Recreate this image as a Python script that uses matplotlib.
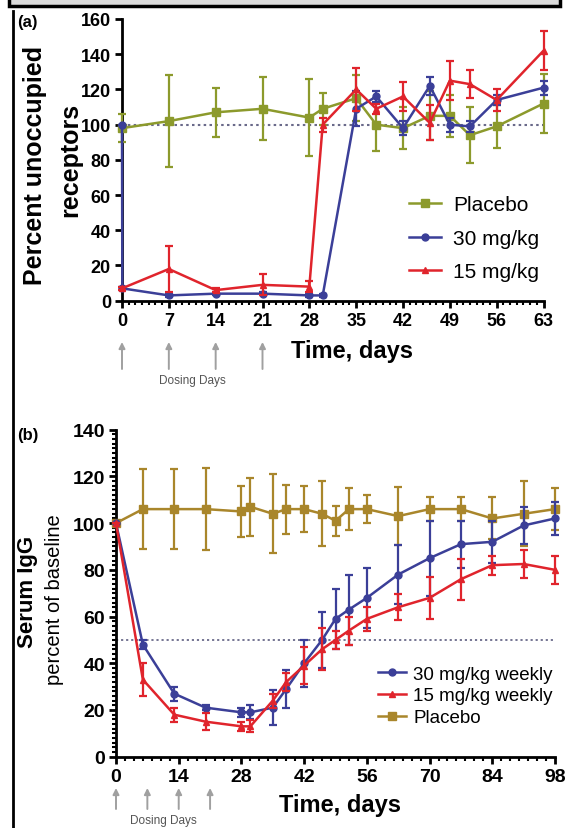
import numpy as np
import matplotlib
matplotlib.use("Agg")
from matplotlib import pyplot as plt
from matplotlib.patches import Rectangle, FancyArrowPatch
from matplotlib.lines import Line2D
from matplotlib.ticker import MultipleLocator

plt.rcParams['font.family'] = ['Liberation Sans', 'DejaVu Sans']

# ---- panel (a): receptor occupancy ----
a_pla_day = [0, 7, 14, 21, 28, 30, 35, 38, 42, 46, 49, 52, 56, 63]
a_pla_val = [98, 102, 107, 109, 104, 109, 115, 100, 98, 105, 105, 94, 99, 112]
a_pla_err = [8, 26, 14, 18, 22, 9, 13, 15, 12, 14, 12, 16, 12, 17]

a_30_day = [0, 0.05, 7, 14, 21, 28, 30, 35, 38, 42, 46, 49, 52, 56, 63]
a_30_val = [100, 7, 3, 4, 4, 3, 3, 109, 116, 98, 122, 100, 99, 114, 121]
a_30_err = [0, 1, 1, 1, 1, 1, 1, 10, 3, 4, 5, 4, 3, 3, 4]

a_15_day = [0, 7, 14, 21, 28, 30, 35, 38, 42, 46, 49, 52, 56, 63]
a_15_val = [7, 18, 6, 9, 8, 100, 120, 109, 116, 101, 125, 123, 114, 142]
a_15_err = [1, 13, 1, 6, 3, 4, 12, 3, 8, 10, 11, 8, 6, 11]

# ---- panel (b): serum IgG ----
b_day = [0, 6, 13, 20, 28, 30, 35, 38, 42, 46, 49, 52, 56, 63, 70, 77, 84, 91, 98]
b_30_val = [100, 48, 27, 21, 19, 19, 21, 29, 40, 50, 59, 63, 68, 78, 85, 91, 92, 99, 102]
b_30_err = [0, 2, 3, 1, 2, 3, 7.5, 8, 10, 12, 13, 15, 13, 12.5, 16, 10, 9, 8, 7]
b_15_val = [100, 33, 18, 15, 13, 13, 24, 32, 39, 46, 50, 54, 59, 64, 68, 76, 82, 82.5, 80]
b_15_err = [0, 7, 3, 3.5, 2, 2.5, 3, 4, 8, 9, 4, 6, 5, 5.5, 9, 8.7, 4, 6, 6]
b_pla_val = [100, 106, 106, 106, 105, 107, 104, 106, 106, 104, 101, 106, 106, 103, 106, 106, 102, 104, 106]
b_pla_err = [0, 17, 17, 17.5, 11, 12.5, 17, 10.5, 10, 14, 6.5, 9, 6, 12.5, 5, 5, 9, 14, 9]

dosing_days = [0, 7, 14, 21]

OLIVE = '#8c9a2c'
BLUE = '#3b3f98'
RED = '#e0242c'
GOLD = '#a9862b'

W, H = 566, 829
fig = plt.figure(figsize=(W / 100, H / 100), dpi=100)


def fx(px):
    return px / W


def fy(py):
    return 1 - py / H


def ptext(px, py, s, **kw):
    # place text by pixel position measured from the top-left corner
    return fig.text(fx(px), fy(py), s, **kw)


# header box and frame line
fig.patches.append(Rectangle((fx(9), fy(7)), fx(551), 7 / H + 0.01, transform=fig.transFigure,
                             facecolor='#dcdcdc', edgecolor='black', linewidth=2.5, clip_on=False))
fig.lines.append(Line2D([fx(12.5), fx(12.5)], [0, fy(12)], transform=fig.transFigure,
                        color='black', linewidth=2.0))


def style_axis(ax, lsize):
    for s in ['top', 'right']:
        ax.spines[s].set_visible(False)
    for s in ['left', 'bottom']:
        ax.spines[s].set_linewidth(2.0)
    ax.tick_params(which='major', length=5, width=2, labelsize=lsize, pad=3)
    ax.tick_params(which='minor', length=3, width=1.5)
    for lab in ax.get_xticklabels() + ax.get_yticklabels():
        lab.set_fontweight('bold')


def series(ax, x, y, e, color, marker, ms, z):
    ax.errorbar(x, y, yerr=e, color=color, marker=marker, markersize=ms, linewidth=1.8,
                elinewidth=1.6, capsize=3, capthick=1.6, clip_on=False, zorder=z)
    return Line2D([], [], color=color, marker=marker, markersize=ms, linewidth=1.8)


# ---------------- panel (a) ----------------
ax1 = fig.add_axes([fx(122), fy(301.7), 421.5 / W, 281.7 / H])
ax1.axhline(100, color='#6a6a8a', linestyle=(0, (1.2, 1.6)), linewidth=1.5, zorder=1)
h_pla = series(ax1, a_pla_day, a_pla_val, a_pla_err, OLIVE, 's', 6, 3)
h_30 = series(ax1, a_30_day, a_30_val, a_30_err, BLUE, 'o', 5, 4)
h_15 = series(ax1, a_15_day, a_15_val, a_15_err, RED, '^', 5, 5)
ax1.set_xlim(0, 63)
ax1.set_ylim(0, 160)
ax1.set_xticks(range(0, 64, 7))
ax1.set_yticks(range(0, 161, 20))
ax1.xaxis.set_minor_locator(MultipleLocator(1))
style_axis(ax1, 13)
ax1.legend([h_pla, h_30, h_15], ['Placebo', '30 mg/kg', '15 mg/kg'], loc='upper left',
           bbox_to_anchor=((401 - 122) / 421.5, 1 - (188 - 20) / 281.7), frameon=False,
           fontsize=15, handlelength=1.5, handletextpad=0.6, labelspacing=0.7, borderaxespad=0)

ptext(17, 23, '(a)', fontsize=12, fontweight='bold', va='center')
ptext(35, 165, 'Percent unoccupied', rotation=90, fontsize=18, fontweight='bold', ha='center', va='center')
ptext(70, 160, 'receptors', rotation=90, fontsize=18, fontweight='bold', ha='center', va='center')
ptext(352, 352, 'Time, days', fontsize=17, fontweight='bold', ha='center', va='center')

# ---------------- panel (b) ----------------
ax2 = fig.add_axes([fx(116), fy(757.7), 439 / W, 327 / H])
ax2.axhline(50, color='#6a6a8a', linestyle=(0, (1.2, 1.6)), linewidth=1.3, zorder=1)
h_bp = series(ax2, b_day, b_pla_val, b_pla_err, GOLD, 's', 6, 3)
h_b30 = series(ax2, b_day, b_30_val, b_30_err, BLUE, 'o', 5, 4)
h_b15 = series(ax2, b_day, b_15_val, b_15_err, RED, '^', 5, 5)
ax2.set_xlim(0, 98)
ax2.set_ylim(0, 140)
ax2.set_xticks(range(0, 99, 14))
ax2.set_yticks(range(0, 141, 20))
ax2.xaxis.set_minor_locator(MultipleLocator(2))
ax2.yaxis.set_minor_locator(MultipleLocator(2))
style_axis(ax2, 14)
ax2.legend([h_b30, h_b15, h_bp], ['30 mg/kg weekly', '15 mg/kg weekly', 'Placebo'], loc='upper left',
           bbox_to_anchor=((370 - 116) / 439, 1 - (659 - 430.7) / 327), frameon=False,
           fontsize=13.5, handlelength=1.5, handletextpad=0.4, labelspacing=0.25, borderaxespad=0)

ptext(17, 436, '(b)', fontsize=12, fontweight='bold', va='center')
ptext(28, 592, 'Serum IgG', rotation=90, fontsize=16, fontweight='bold', ha='center', va='center')
ptext(55, 600, 'percent of baseline', rotation=90, fontsize=14.5, ha='center', va='center')
ptext(340, 806, 'Time, days', fontsize=17, fontweight='bold', ha='center', va='center')

# dosing arrows
fig.canvas.draw()
for ax, y0, y1, ty in [(ax1, 370, 343, 381), (ax2, 810, 789, 821)]:
    for d in dosing_days:
        px = ax.transData.transform((d, 0))[0]
        fig.patches.append(FancyArrowPatch((px / W, fy(y0)), (px / W, fy(y1)), transform=fig.transFigure,
                                           arrowstyle='-|>', mutation_scale=9, shrinkA=0, shrinkB=0,
                                           color='#a0a0a0', linewidth=1.4))
    xm = ax.transData.transform((10.5, 0))[0]
    ptext(xm, ty, 'Dosing Days', fontsize=8.5, color='#555555', ha='center', va='center')

fig.savefig('out.png', dpi=100)
